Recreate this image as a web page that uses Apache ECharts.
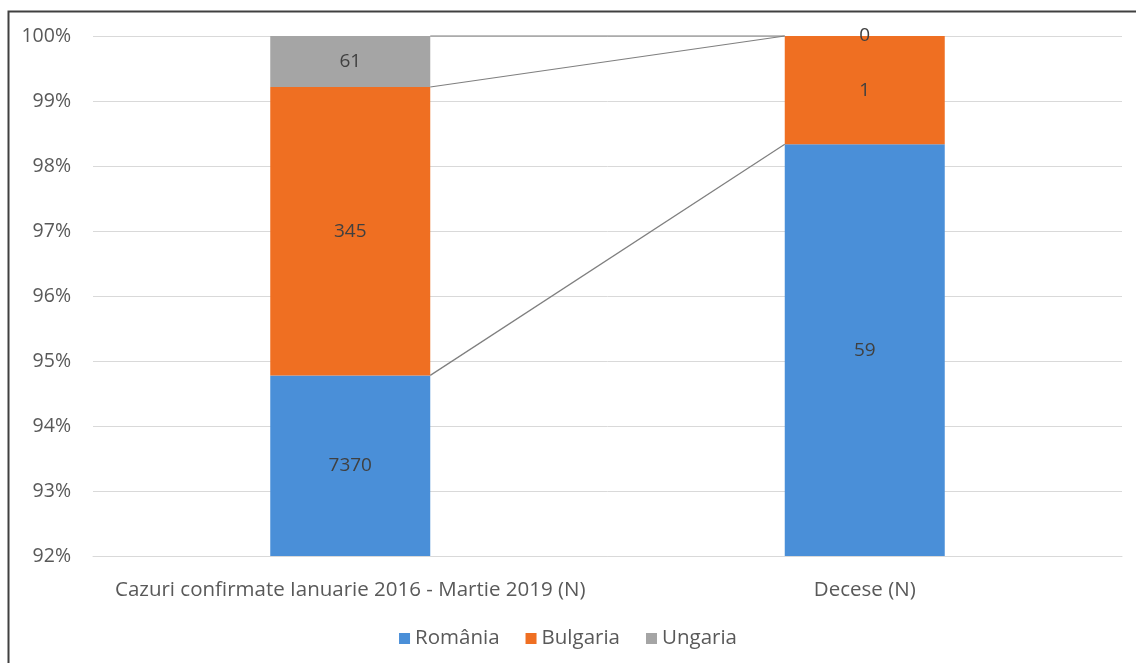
<!DOCTYPE html>
<html>
<head>
<meta charset="utf-8">
<script src="https://cdn.jsdelivr.net/npm/echarts@6/dist/echarts.min.js"></script>
<style>
  html, body { margin: 0; padding: 0; background: #fff; }
  #chart { width: 1136px; height: 663px; }
</style>
</head>
<body>
<div id="chart"></div>
<script>
// data
var categories = ['Cazuri confirmate Ianuarie 2016 - Martie 2019 (N)', 'Decese (N)'];
var romania = [7370, 59];
var bulgaria = [345, 1];
var ungaria = [61, 0];
var seriesNames = ['România', 'Bulgaria', 'Ungaria'];
var colors = ['#4a8fd8', '#ef6f22', '#a5a5a5'];

var counts = [romania, bulgaria, ungaria];
var totals = categories.map(function (c, i) {
    return romania[i] + bulgaria[i] + ungaria[i];
});
// share of each country in %
var pct = counts.map(function (arr) {
    return arr.map(function (v, i) { return v / totals[i] * 100; });
});
// cumulative tops of each segment, used for the series lines
var tops = pct.map(function (arr, k) {
    return arr.map(function (v, i) {
        var s = 0;
        for (var j = 0; j <= k; j++) s += pct[j][i];
        return s;
    });
});

var BAR_W = 160;
var FONT = 'Open Sans';

var chart = echarts.init(document.getElementById('chart'));

var series = pct.map(function (arr, k) {
    return {
        name: seriesNames[k],
        type: 'bar',
        stack: 'all',
        barWidth: BAR_W,
        itemStyle: { color: colors[k] },
        label: {
            show: true,
            position: 'inside',
            color: '#404040',
            fontSize: 19,
            fontFamily: FONT,
            formatter: function (p) { return counts[k][p.dataIndex]; }
        },
        data: arr.map(function (v) { return { value: v }; }),
        z: 3
    };
});

// excel-like series lines from the first bar's right edge to the second bar's left edge
series.push({
    type: 'custom',
    name: 'lines',
    data: tops.map(function (t) { return [t[0], t[1]]; }),
    renderItem: function (params, api) {
        var a = api.coord([0, api.value(0)]);
        var b = api.coord([1, api.value(1)]);
        return {
            type: 'line',
            shape: { x1: a[0] + BAR_W / 2, y1: a[1], x2: b[0] - BAR_W / 2, y2: b[1] },
            style: { stroke: '#7f7f7f', lineWidth: 1.2 }
        };
    },
    silent: true,
    z: 4
});

var option = {
    backgroundColor: '#fff',
    animation: false,
    grid: { left: 93, right: 14, top: 36, bottom: 107 },
    legend: {
        data: seriesNames,
        bottom: 9,
        left: 'center',
        itemWidth: 11,
        itemHeight: 11,
        itemGap: 26,
        icon: 'rect',
        textStyle: { color: '#595959', fontSize: 20.5, fontFamily: FONT }
    },
    xAxis: {
        type: 'category',
        data: categories,
        axisLine: { show: true, lineStyle: { color: '#d9d9d9' } },
        axisTick: { show: false },
        axisLabel: { color: '#595959', fontSize: 20.5, fontFamily: FONT, margin: 24, interval: 0 }
    },
    yAxis: {
        type: 'value',
        min: 92,
        max: 100,
        interval: 1,
        axisLine: { show: false },
        axisTick: { show: false },
        splitLine: { lineStyle: { color: '#d9d9d9' } },
        axisLabel: {
            color: '#595959', fontSize: 19.5, fontFamily: FONT, margin: 22,
            formatter: function (v) { return v + '%'; }
        }
    },
    graphic: [{
        type: 'rect',
        shape: { x: 8.5, y: 11.5, width: 1200, height: 700 },
        style: { fill: 'none', stroke: '#404040', lineWidth: 2 },
        silent: true
    }],
    series: series
};

chart.setOption(option);
</script>
</body>
</html>
